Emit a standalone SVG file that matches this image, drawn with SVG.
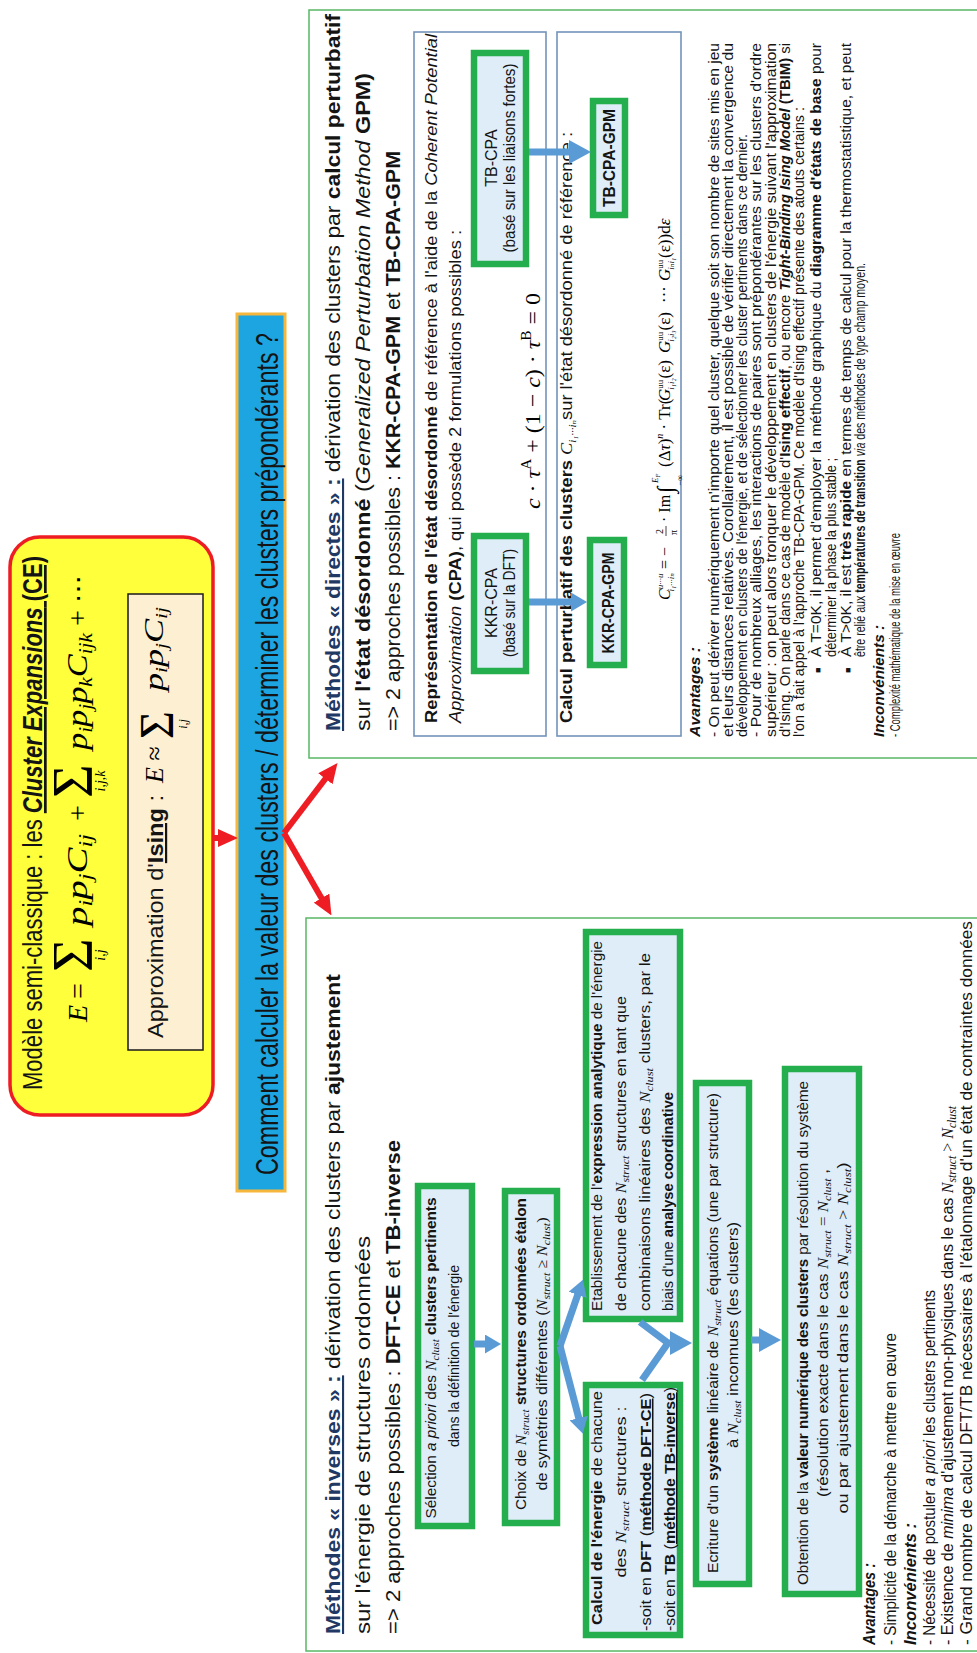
<svg xmlns="http://www.w3.org/2000/svg" width="977" height="1653" viewBox="0 0 977 1653">
<defs>
<style>
.t{font-family:"Liberation Sans",Arial,sans-serif;fill:#141414}
.m{font-family:"Liberation Serif","DejaVu Serif",serif;font-style:italic;font-weight:normal}
.r{font-family:"Liberation Serif","DejaVu Serif",serif;font-style:normal;font-weight:normal}
.b{font-weight:bold}
.i{font-style:italic}
.u{text-decoration:underline}
.nv{fill:#1F3864}
.panel{fill:#fff;stroke:#58B866;stroke-width:1.5}
.sub{fill:none;stroke:#7393BA;stroke-width:1.6}
.gb{fill:#DEEDF8;stroke:#25AE4D;stroke-width:6.5}
.ba{fill:none;stroke:#5B9BD5;stroke-width:7;stroke-linejoin:round}
.ra{fill:none;stroke:#EE1D23;stroke-width:6;stroke-linejoin:round}
</style>
<marker id="rh" markerUnits="userSpaceOnUse" markerWidth="20" markerHeight="18" viewBox="0 0 20 18" refX="1" refY="9" orient="auto"><path d="M0,0 L20,9 L0,18 z" fill="#EE1D23"/></marker>
<marker id="bh" markerUnits="userSpaceOnUse" markerWidth="22" markerHeight="24" viewBox="0 0 22 24" refX="1" refY="12" orient="auto"><path d="M0,0 L22,12 L0,24 z" fill="#5B9BD5"/></marker>
<marker id="bs" markerUnits="userSpaceOnUse" markerWidth="16" markerHeight="19" viewBox="0 0 16 19" refX="1" refY="9.5" orient="auto"><path d="M0,0 L16,9.5 L0,19 z" fill="#5B9BD5"/></marker>
</defs>
<rect width="977" height="1653" fill="#fff"/>
<g transform="matrix(0,-1,1,0,0,1653)">

<g id="ce-model">
<rect x="538" y="10" width="578" height="203" rx="30" fill="#FFFF3C" stroke="#EE1D23" stroke-width="3.5"/>
<text class="t" x="563" y="42" font-size="27" textLength="534" lengthAdjust="spacingAndGlyphs">Modèle semi-classique : les <tspan class="b i u">Cluster Expansions</tspan><tspan class="b u"> (CE)</tspan></text>
<text class="m" x="631" y="87" font-size="28">E</text>
<text class="r" x="654" y="87" font-size="28">=</text>
<text class="r" x="681" y="92" font-size="58">Σ</text>
<text class="m" x="698" y="105" font-size="14" text-anchor="middle">i,j</text>
<text class="m" x="727" y="87" font-size="29" textLength="92" lengthAdjust="spacingAndGlyphs">p<tspan font-size="18" dy="5">i</tspan><tspan dy="-5">p</tspan><tspan font-size="18" dy="5">j</tspan><tspan dy="-5">C</tspan><tspan font-size="18" dy="5">ij</tspan></text>
<text class="r" x="832" y="87" font-size="28">+</text>
<text class="r" x="855" y="92" font-size="58">Σ</text>
<text class="m" x="872" y="105" font-size="14" text-anchor="middle">i,j,k</text>
<text class="m" x="903" y="87" font-size="29" textLength="117" lengthAdjust="spacingAndGlyphs">p<tspan font-size="18" dy="5">i</tspan><tspan dy="-5">p</tspan><tspan font-size="18" dy="5">j</tspan><tspan dy="-5">p</tspan><tspan font-size="18" dy="5">k</tspan><tspan dy="-5">C</tspan><tspan font-size="18" dy="5">ijk</tspan></text>
<text class="r" x="1027" y="87" font-size="28">+ ⋯</text>
<g id="ising-approx">
<rect x="603" y="128" width="456" height="75" fill="#FDEFD2" stroke="#1a1a1a" stroke-width="1.5"/>
<text class="t" x="615" y="163" font-size="22" textLength="243" lengthAdjust="spacingAndGlyphs">Approximation d'<tspan class="b u">Ising</tspan> :</text>
<text class="m" x="870" y="163" font-size="26">E <tspan class="r">≈</tspan></text>
<text class="r" x="914" y="173" font-size="48">Σ</text>
<text class="m" x="929" y="187" font-size="12" text-anchor="middle">i,j</text>
<text class="m" x="962" y="163" font-size="27" textLength="84" lengthAdjust="spacingAndGlyphs">p<tspan font-size="16" dy="4">i</tspan><tspan dy="-4">p</tspan><tspan font-size="16" dy="4">j</tspan><tspan dy="-4">C</tspan><tspan font-size="16" dy="4">ij</tspan></text>
</g>
</g>

<g id="question-bar">
<rect x="462" y="237" width="877" height="48" fill="#1DA5E2" stroke="#F6B73C" stroke-width="3"/>
<text class="t" x="478" y="278" font-size="31" textLength="842" lengthAdjust="spacingAndGlyphs">Comment calculer la valeur des clusters / déterminer les clusters prépondérants ?</text>
</g>

<g id="panel-directes">
<rect class="panel" x="895" y="309" width="748" height="690"/>
<text class="t" x="922" y="340" font-size="21" textLength="717" lengthAdjust="spacingAndGlyphs"><tspan class="b u nv">Méthodes « directes » :</tspan> dérivation des clusters par <tspan class="b">calcul perturbatif</tspan></text>
<text class="t" x="922" y="370" font-size="21" textLength="658" lengthAdjust="spacingAndGlyphs">sur <tspan class="b">l'état désordonné</tspan> (<tspan class="i">Generalized Perturbation Method</tspan> <tspan class="b">GPM)</tspan></text>
<text class="t" x="922" y="400" font-size="21" textLength="580" lengthAdjust="spacingAndGlyphs">=&gt; 2 approches possibles : <tspan class="b">KKR-CPA-GPM</tspan> et <tspan class="b">TB-CPA-GPM</tspan></text>

<g id="cpa-box">
<rect class="sub" x="917" y="414" width="704" height="132"/>
<text class="t" x="930" y="437" font-size="16.5" textLength="689" lengthAdjust="spacingAndGlyphs"><tspan class="b">Représentation de l'état désordonné</tspan> de référence à l'aide de la <tspan class="i">Coherent Potential</tspan></text>
<text class="t" x="930" y="461" font-size="16.5" textLength="493" lengthAdjust="spacingAndGlyphs"><tspan class="i">Approximation</tspan> <tspan class="b">(CPA)</tspan>, qui possède 2 formulations possibles :</text>
<text class="r" x="1144" y="540" font-size="22" textLength="216" lengthAdjust="spacingAndGlyphs"><tspan class="m">c</tspan> · <tspan class="m">τ</tspan><tspan font-size="14" dy="-9">A</tspan><tspan dy="9"> + (1 − </tspan><tspan class="m">c</tspan>) · <tspan class="m">τ</tspan><tspan font-size="14" dy="-9">B</tspan><tspan dy="9"> = 0</tspan></text>
</g>
<g id="kkr-cpa">
<rect class="gb" x="982" y="474" width="135" height="52"/>
<text class="t" x="1050" y="497" font-size="16" text-anchor="middle">KKR-CPA</text>
<text class="t" x="1050" y="515" font-size="16" text-anchor="middle" textLength="108" lengthAdjust="spacingAndGlyphs">(basé sur la DFT)</text>
</g>
<g id="tb-cpa">
<rect class="gb" x="1389" y="474" width="211" height="52"/>
<text class="t" x="1495" y="497" font-size="16" text-anchor="middle">TB-CPA</text>
<text class="t" x="1495" y="515" font-size="16" text-anchor="middle" textLength="189" lengthAdjust="spacingAndGlyphs">(basé sur les liaisons fortes)</text>
</g>

<g id="gpm-box">
<rect class="sub" x="917" y="557" width="704" height="124"/>
<text class="t" x="930" y="572" font-size="16.5" textLength="591" lengthAdjust="spacingAndGlyphs"><tspan class="b">Calcul perturbatif des clusters </tspan><tspan class="m">C</tspan><tspan class="m" font-size="10" dy="4">i₁···iₙ</tspan><tspan dy="-4">sur l'état désordonné de référence :</tspan></text>
<text class="r" x="1053" y="670" font-size="16"><tspan class="m">C</tspan><tspan class="m" font-size="9" dy="-7">u···u</tspan><tspan class="m" font-size="9" dx="-18" dy="11">i₁···iₙ</tspan><tspan dy="-4"> = −</tspan></text>
<text class="r" x="1119" y="663" font-size="10">2</text>
<line x1="1117" y1="666" x2="1127" y2="666" stroke="#141414" stroke-width="0.8"/>
<text class="r" x="1118" y="677" font-size="10">π</text>
<text class="r" x="1131" y="670" font-size="16">· Im</text>
<text class="r" x="1160" y="673" font-size="23">∫</text>
<text class="m" x="1170" y="658" font-size="9">E<tspan font-size="6" dy="2">F</tspan></text>
<text class="r" x="1167" y="683" font-size="9">−∞</text>
<text class="r" x="1186" y="670" font-size="17">(Δ<tspan class="m">τ</tspan>)<tspan class="m" font-size="10" dy="-7">n</tspan><tspan dy="7"> · Tr(</tspan></text>
<text class="r" x="1252" y="670" font-size="17"><tspan class="m">G</tspan><tspan font-size="9" dy="-7">uu</tspan><tspan class="m" font-size="9" dx="-10" dy="11">i₁i₂</tspan><tspan dy="-4">(ε)</tspan></text>
<text class="r" x="1300" y="670" font-size="17"><tspan class="m">G</tspan><tspan font-size="9" dy="-7">uu</tspan><tspan class="m" font-size="9" dx="-10" dy="11">i₂i₃</tspan><tspan dy="-4">(ε)</tspan></text>
<text class="r" x="1350" y="670" font-size="17">···</text>
<text class="r" x="1372" y="670" font-size="17"><tspan class="m">G</tspan><tspan font-size="9" dy="-7">uu</tspan><tspan class="m" font-size="9" dx="-10" dy="11">iₙi₁</tspan><tspan dy="-4">(ε))d</tspan><tspan class="m">ε</tspan></text>
</g>
<g id="kkr-cpa-gpm">
<rect class="gb" x="988" y="590" width="125" height="34"/>
<text class="t b" x="1050" y="614" font-size="16" text-anchor="middle" textLength="101" lengthAdjust="spacingAndGlyphs">KKR-CPA-GPM</text>
</g>
<g id="tb-cpa-gpm">
<rect class="gb" x="1438" y="593" width="114" height="32"/>
<text class="t b" x="1495" y="615" font-size="16" text-anchor="middle" textLength="98" lengthAdjust="spacingAndGlyphs">TB-CPA-GPM</text>
</g>

<g id="directes-notes" font-size="14">
<text class="t b i" x="916" y="700" textLength="90" lengthAdjust="spacingAndGlyphs">Avantages :</text>
<text class="t" x="916" y="719" textLength="694" lengthAdjust="spacingAndGlyphs">- On peut dériver numériquement n'importe quel cluster, quelque soit son nombre de sites mis en jeu</text>
<text class="t" x="916" y="733" textLength="694" lengthAdjust="spacingAndGlyphs">et leurs distances relatives. Corollairement, il est possible de vérifier directement la convergence du</text>
<text class="t" x="916" y="747" textLength="603" lengthAdjust="spacingAndGlyphs">développement en clusters de l'énergie, et de sélectionner les cluster pertinents dans ce dernier.</text>
<text class="t" x="916" y="761" textLength="694" lengthAdjust="spacingAndGlyphs">- Pour de nombreux alliages, les interactions de paires sont prépondérantes sur les clusters d'ordre</text>
<text class="t" x="916" y="776" textLength="694" lengthAdjust="spacingAndGlyphs">supérieur : on peut alors tronquer le développement en clusters de l'énergie suivant l'approximation</text>
<text class="t" x="916" y="790" textLength="694" lengthAdjust="spacingAndGlyphs">d'Ising. On parle dans ce cas de modèle d'<tspan class="b">Ising effectif</tspan>, ou encore <tspan class="b i">Tight-Binding Ising Model</tspan> <tspan class="b">(TBIM)</tspan> si</text>
<text class="t" x="916" y="804" textLength="630" lengthAdjust="spacingAndGlyphs">l'on a fait appel à l'approche TB-CPA-GPM. Ce modèle d'Ising effectif présente des atouts certains :</text>
<text class="t" x="980" y="821" font-size="9">■</text>
<text class="t" x="996" y="821" textLength="614" lengthAdjust="spacingAndGlyphs">À T=0K, il permet d'employer la méthode graphique du <tspan class="b">diagramme d'états de base</tspan> pour</text>
<text class="t" x="996" y="836" textLength="199" lengthAdjust="spacingAndGlyphs">déterminer la phase la plus stable ;</text>
<text class="t" x="980" y="851" font-size="9">■</text>
<text class="t" x="996" y="851" textLength="614" lengthAdjust="spacingAndGlyphs">À T&gt;0K, il est <tspan class="b">très rapide</tspan> en termes de temps de calcul pour la thermostatistique, et peut</text>
<text class="t" x="996" y="865" textLength="394" lengthAdjust="spacingAndGlyphs">être relié aux <tspan class="b">températures de transition</tspan> <tspan class="i">via</tspan> des méthodes de type champ moyen.</text>
<text class="t b i" x="916" y="884" textLength="112" lengthAdjust="spacingAndGlyphs">Inconvénients :</text>
<text class="t" x="916" y="900" textLength="204" lengthAdjust="spacingAndGlyphs">- Complexité mathématique de la mise en œuvre</text>
</g>
</g>

<g id="panel-inverses">
<rect class="panel" x="2" y="306" width="733" height="690"/>
<text class="t" x="19" y="340" font-size="21" textLength="660" lengthAdjust="spacingAndGlyphs"><tspan class="b u nv">Méthodes « inverses » :</tspan> dérivation des clusters par <tspan class="b">ajustement</tspan></text>
<text class="t" x="19" y="370" font-size="21" textLength="398" lengthAdjust="spacingAndGlyphs">sur l'énergie de structures ordonnées</text>
<text class="t" x="19" y="400" font-size="21" textLength="494" lengthAdjust="spacingAndGlyphs">=&gt; 2 approches possibles : <tspan class="b">DFT-CE</tspan> et <tspan class="b">TB-inverse</tspan></text>

<g id="box-selection">
<rect class="gb" x="127" y="418" width="340" height="54"/>
<text class="t" x="295" y="436" font-size="15" text-anchor="middle" textLength="321" lengthAdjust="spacingAndGlyphs">Sélection <tspan class="i">a priori</tspan> des <tspan class="m">N</tspan><tspan class="m" font-size="11" dy="3">clust</tspan><tspan class="b" dy="-3"> clusters pertinents</tspan></text>
<text class="t" x="297" y="459" font-size="15" text-anchor="middle" textLength="182" lengthAdjust="spacingAndGlyphs">dans la définition de l'énergie</text>
</g>
<g id="box-choix">
<rect class="gb" x="130" y="505" width="332" height="52"/>
<text class="t" x="299" y="526" font-size="15" text-anchor="middle" textLength="312" lengthAdjust="spacingAndGlyphs">Choix de <tspan class="m">N</tspan><tspan class="m" font-size="11" dy="3">struct</tspan><tspan class="b" dy="-3"> structures ordonnées étalon</tspan></text>
<text class="t" x="299" y="547" font-size="15" text-anchor="middle" textLength="273" lengthAdjust="spacingAndGlyphs">de symétries différentes (<tspan class="m">N</tspan><tspan class="m" font-size="11" dy="3">struct</tspan><tspan class="r" dy="-3"> ≥ </tspan><tspan class="m">N</tspan><tspan class="m" font-size="11" dy="3">clust</tspan><tspan class="r" dy="-3">)</tspan></text>
</g>
<g id="box-calcul">
<rect class="gb" x="18" y="586" width="250" height="94"/>
<text class="t" x="28" y="602" font-size="15" textLength="234" lengthAdjust="spacingAndGlyphs"><tspan class="b">Calcul de l'énergie</tspan> de chacune</text>
<text class="t" x="161" y="626" font-size="15" text-anchor="middle" textLength="171" lengthAdjust="spacingAndGlyphs">des <tspan class="m">N</tspan><tspan class="m" font-size="11" dy="3">struct</tspan><tspan dy="-3"> structures :</tspan></text>
<text class="t" x="22" y="651" font-size="15" textLength="238" lengthAdjust="spacingAndGlyphs">-soit en <tspan class="b">DFT</tspan> (<tspan class="b u">méthode DFT-CE</tspan>)</text>
<text class="t" x="22" y="675" font-size="15" textLength="244" lengthAdjust="spacingAndGlyphs">-soit en <tspan class="b">TB</tspan> (<tspan class="b u">méthode TB-inverse</tspan>)</text>
</g>
<g id="box-expression">
<rect class="gb" x="334" y="586" width="387" height="94"/>
<text class="t" x="342" y="602" font-size="15" textLength="370" lengthAdjust="spacingAndGlyphs">Etablissement de l'<tspan class="b">expression analytique</tspan> de l'énergie</text>
<text class="t" x="342" y="626" font-size="15" textLength="315" lengthAdjust="spacingAndGlyphs">de chacune des <tspan class="m">N</tspan><tspan class="m" font-size="11" dy="3">struct</tspan><tspan dy="-3"> structures en tant que</tspan></text>
<text class="t" x="342" y="650" font-size="15" textLength="358" lengthAdjust="spacingAndGlyphs">combinaisons linéaires des <tspan class="m">N</tspan><tspan class="m" font-size="11" dy="3">clust</tspan><tspan dy="-3"> clusters, par le</tspan></text>
<text class="t" x="342" y="673" font-size="15" textLength="219" lengthAdjust="spacingAndGlyphs">biais d'une <tspan class="b">analyse coordinative</tspan></text>
</g>
<g id="box-systeme">
<rect class="gb" x="69" y="696" width="501" height="53"/>
<text class="t" x="320" y="718" font-size="15" text-anchor="middle" textLength="480" lengthAdjust="spacingAndGlyphs">Ecriture d'un <tspan class="b">système</tspan> linéaire de <tspan class="m">N</tspan><tspan class="m" font-size="11" dy="3">struct</tspan><tspan dy="-3"> équations (une par structure)</tspan></text>
<text class="t" x="318" y="738" font-size="15" text-anchor="middle" textLength="226" lengthAdjust="spacingAndGlyphs">à <tspan class="m">N</tspan><tspan class="m" font-size="11" dy="3">clust</tspan><tspan dy="-3"> inconnues (les clusters)</tspan></text>
</g>
<g id="box-obtention">
<rect class="gb" x="59" y="785" width="525" height="74"/>
<text class="t" x="320" y="808" font-size="15.5" text-anchor="middle" textLength="504" lengthAdjust="spacingAndGlyphs">Obtention de la <tspan class="b">valeur numérique des clusters</tspan> par résolution du système</text>
<text class="t" x="320" y="828" font-size="15.5" text-anchor="middle" textLength="328" lengthAdjust="spacingAndGlyphs">(résolution exacte dans le cas <tspan class="m">N</tspan><tspan class="m" font-size="11" dy="3">struct</tspan><tspan class="r" dy="-3"> = </tspan><tspan class="m">N</tspan><tspan class="m" font-size="11" dy="3">clust</tspan><tspan dy="-3"> ,</tspan></text>
<text class="t" x="315" y="848" font-size="15.5" text-anchor="middle" textLength="351" lengthAdjust="spacingAndGlyphs">ou par ajustement dans le cas <tspan class="m">N</tspan><tspan class="m" font-size="11" dy="3">struct</tspan><tspan class="r" dy="-3"> &gt; </tspan><tspan class="m">N</tspan><tspan class="m" font-size="11" dy="3">clust</tspan><tspan dy="-3">)</tspan></text>
</g>

<g id="inverses-notes" font-size="16.5">
<text class="t b i" x="8" y="875" textLength="82" lengthAdjust="spacingAndGlyphs">Avantages :</text>
<text class="t" x="8" y="896" textLength="312" lengthAdjust="spacingAndGlyphs">- Simplicité de la démarche à mettre en œuvre</text>
<text class="t b i" x="8" y="916" textLength="122" lengthAdjust="spacingAndGlyphs">Inconvénients :</text>
<text class="t" x="8" y="935" textLength="355" lengthAdjust="spacingAndGlyphs">- Nécessité de postuler <tspan class="i">a priori</tspan> les clusters pertinents</text>
<text class="t" x="8" y="953" textLength="539" lengthAdjust="spacingAndGlyphs">- Existence de <tspan class="i">minima</tspan> d'ajustement non-physiques dans le cas <tspan class="m">N</tspan><tspan class="m" font-size="12" dy="3">struct</tspan><tspan class="r" dy="-3"> &gt; </tspan><tspan class="m">N</tspan><tspan class="m" font-size="12" dy="3">clust</tspan></text>
<text class="t" x="8" y="972" textLength="724" lengthAdjust="spacingAndGlyphs">- Grand nombre de calcul DFT/TB nécessaires à l'étalonnage d'un état de contraintes données</text>
</g>
</g>

<g id="connectors">
<path class="ra" d="M815,213 L815,219" marker-end="url(#rh)"/>
<path class="ra" d="M820,284 L875,326" marker-end="url(#rh)"/>
<path class="ra" d="M820,284 L754,322" marker-end="url(#rh)"/>
<path class="ba" d="M1051,529 L1051,572" marker-end="url(#bs)"/>
<path class="ba" d="M1501,529 L1501,570" marker-end="url(#bh)"/>
<path class="ba" d="M309,474 L309,486" marker-end="url(#bs)"/>
<path class="ba" d="M307,560 L359,578" marker-end="url(#bs)"/>
<path class="ba" d="M307,560 L234,579" marker-end="url(#bs)"/>
<path class="ba" d="M331,640 L310,668 M273,642 L310,668 L310,671" marker-end="url(#bh)"/>
<path class="ba" d="M313,751 L313,760" marker-end="url(#bh)"/>
</g>
</g>
</svg>
